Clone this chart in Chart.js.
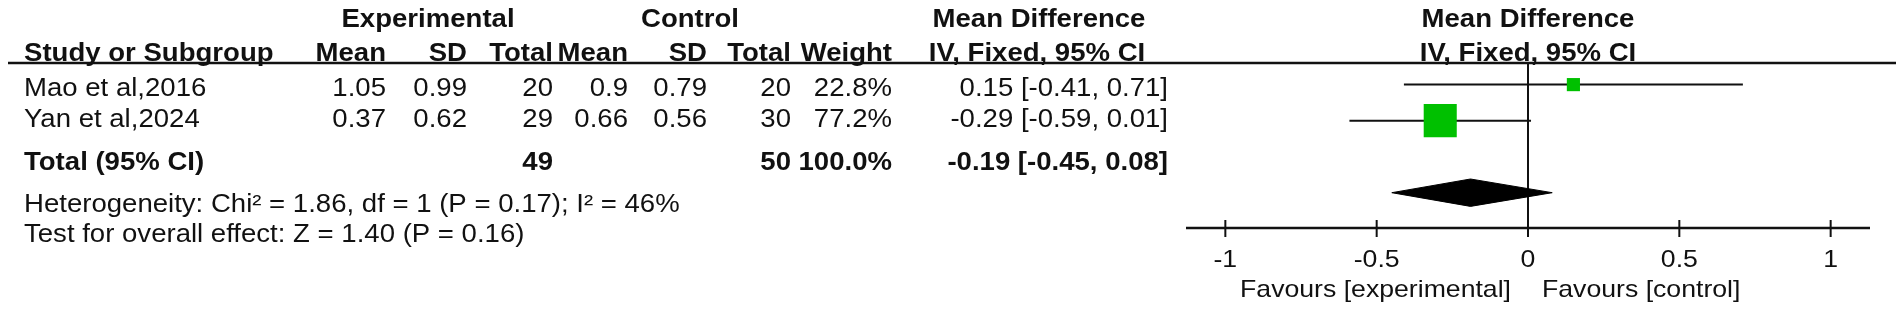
<!DOCTYPE html>
<html>
<head>
<meta charset="utf-8">
<script src="https://cdn.jsdelivr.net/npm/chart.js@4/dist/chart.umd.min.js"></script>
<style>
  html, body { margin: 0; padding: 0; background: #fff; }
  #wrap { width: 1902px; height: 311px; }
</style>
</head>
<body>
<div id="wrap"><canvas id="forest" width="1902" height="311"></canvas></div>
<script>
// ===== DATA =====
const studies = ['Mao et al,2016', 'Yan et al,2024'];
const expMean = ['1.05', '0.37'];
const expSD = ['0.99', '0.62'];
const expTotal = [20, 29];
const ctlMean = ['0.9', '0.66'];
const ctlSD = ['0.79', '0.56'];
const ctlTotal = [20, 30];
const weights = [22.8, 77.2];
const meanDiff = [0.15, -0.29];
const ciLow = [-0.41, -0.59];
const ciHigh = [0.71, 0.01];

const totalLabel = 'Total (95% CI)';
const totalExp = 49;
const totalCtl = 50;
const totalWeight = 100.0;
const totalMD = -0.19;
const totalLow = -0.45;
const totalHigh = 0.08;

const heteroText = 'Heterogeneity: Chi² = 1.86, df = 1 (P = 0.17); I² = 46%';
const overallText = 'Test for overall effect: Z = 1.40 (P = 0.16)';

const xTicks = [-1, -0.5, 0, 0.5, 1];
const xTickLabels = ['-1', '-0.5', '0', '0.5', '1'];
const favourLeft = 'Favours [experimental]';
const favourRight = 'Favours [control]';

// ===== LAYOUT / STYLE =====
const FONT = '"Liberation Sans", Arial, Helvetica, sans-serif';
const INK = '#111';
const GREEN = '#00C000';
const TXT_SIZE = 26, TXT_SX = 1.06;
const AX_SIZE = 24, AX_SX = 1.11;
const ROW_TOTAL = 3;
const Y_MIN = -0.6, Y_MAX = 3.98;
// text baselines (px)
const BASE = { h1: 27, h2: 61, rows: [96, 127], total: 170, het: 212, test: 242 };
// right edges of the numeric columns
const COL = { expMean: 386, expSD: 467, expTotal: 553, ctlMean: 628, ctlSD: 707, ctlTotal: 791, weight: 892, ci: 1168 };

function fmtCI(m, lo, hi) {
  return `${m.toFixed(2)} [${lo.toFixed(2)}, ${hi.toFixed(2)}]`;
}

function txt(ctx, s, x, y, align, bold, size, sx) {
  ctx.save();
  ctx.font = `${bold ? 'bold ' : ''}${size}px ${FONT}`;
  ctx.textBaseline = 'alphabetic';
  ctx.textAlign = 'left';
  ctx.fillStyle = INK;
  const w = ctx.measureText(s).width * sx;
  const x0 = align === 'right' ? x - w : align === 'center' ? x - w / 2 : x;
  ctx.translate(x0, y);
  ctx.scale(sx, 1);
  ctx.fillText(s, 0, 0);
  ctx.restore();
}

function hline(ctx, x1, x2, y, w) {
  ctx.save();
  ctx.strokeStyle = INK; ctx.lineWidth = w;
  ctx.beginPath(); ctx.moveTo(x1, y); ctx.lineTo(x2, y); ctx.stroke();
  ctx.restore();
}

// ===== TABLE + AXIS PLUGIN =====
const forestTable = {
  id: 'forestTable',
  afterDraw(chart) {
    const ctx = chart.ctx;
    const xs = chart.scales.x;
    const T = (s, x, y, align, bold) => txt(ctx, s, x, y, align, bold, TXT_SIZE, TXT_SX);

    // header
    const h1 = BASE.h1, h2 = BASE.h2, zx = xs.getPixelForValue(0);
    T('Experimental', 428, h1, 'center', true);
    T('Control', 690, h1, 'center', true);
    T('Mean Difference', 1039, h1, 'center', true);
    T('Mean Difference', zx, h1, 'center', true);
    T('Study or Subgroup', 24, h2, 'left', true);
    T('Mean', COL.expMean, h2, 'right', true);
    T('SD', COL.expSD, h2, 'right', true);
    T('Total', COL.expTotal, h2, 'right', true);
    T('Mean', COL.ctlMean, h2, 'right', true);
    T('SD', COL.ctlSD, h2, 'right', true);
    T('Total', COL.ctlTotal, h2, 'right', true);
    T('Weight', COL.weight, h2, 'right', true);
    T('IV, Fixed, 95% CI', 1037, h2, 'center', true);
    T('IV, Fixed, 95% CI', zx, h2, 'center', true);
    hline(ctx, 8, 1896, chart.chartArea.top, 2.5);

    // study rows
    studies.forEach((name, i) => {
      const y = BASE.rows[i];
      T(name, 24, y, 'left', false);
      T(expMean[i], COL.expMean, y, 'right', false);
      T(expSD[i], COL.expSD, y, 'right', false);
      T(String(expTotal[i]), COL.expTotal, y, 'right', false);
      T(ctlMean[i], COL.ctlMean, y, 'right', false);
      T(ctlSD[i], COL.ctlSD, y, 'right', false);
      T(String(ctlTotal[i]), COL.ctlTotal, y, 'right', false);
      T(weights[i].toFixed(1) + '%', COL.weight, y, 'right', false);
      T(fmtCI(meanDiff[i], ciLow[i], ciHigh[i]), COL.ci, y, 'right', false);
    });

    // total
    T(totalLabel, 24, BASE.total, 'left', true);
    T(String(totalExp), COL.expTotal, BASE.total, 'right', true);
    T(String(totalCtl), COL.ctlTotal, BASE.total, 'right', true);
    T(totalWeight.toFixed(1) + '%', COL.weight, BASE.total, 'right', true);
    T(fmtCI(totalMD, totalLow, totalHigh), COL.ci, BASE.total, 'right', true);
    T(heteroText, 24, BASE.het, 'left', false);
    T(overallText, 24, BASE.test, 'left', false);

    // x axis
    const ay = chart.chartArea.bottom;
    hline(ctx, xs.getPixelForValue(xs.min), xs.getPixelForValue(xs.max), ay, 2.5);
    ctx.save();
    ctx.strokeStyle = INK; ctx.lineWidth = 2;
    xTicks.forEach((v, k) => {
      const px = xs.getPixelForValue(v);
      ctx.beginPath(); ctx.moveTo(px, ay - 8); ctx.lineTo(px, ay + 9); ctx.stroke();
      txt(ctx, xTickLabels[k], px, ay + 39, 'center', false, AX_SIZE, AX_SX);
    });
    ctx.restore();
    txt(ctx, favourLeft, zx - 17, ay + 69, 'right', false, AX_SIZE, AX_SX);
    txt(ctx, favourRight, zx + 14, ay + 69, 'left', false, AX_SIZE, AX_SX);
  }
};

// ===== DATASETS =====
const ciSets = studies.map((s, i) => ({
  type: 'line',
  data: [{ x: ciLow[i], y: i }, { x: ciHigh[i], y: i }],
  borderColor: INK, borderWidth: 2, pointRadius: 0, order: 2
}));

const squareSet = {
  type: 'scatter',
  data: meanDiff.map((m, i) => ({ x: m, y: i })),
  pointStyle: 'rect',
  pointRadius: ctx => (2.4 + 0.183 * weights[ctx.dataIndex]) * Math.SQRT2,
  backgroundColor: GREEN, borderWidth: 0, order: 1
};

const DIAMOND_H = 0.38;
const diamondSet = {
  type: 'line',
  data: [
    { x: totalLow, y: ROW_TOTAL }, { x: totalMD, y: ROW_TOTAL - DIAMOND_H },
    { x: totalHigh, y: ROW_TOTAL }, { x: totalMD, y: ROW_TOTAL + DIAMOND_H },
    { x: totalLow, y: ROW_TOTAL }
  ],
  borderColor: '#000', borderWidth: 1, backgroundColor: '#000',
  fill: 'shape', pointRadius: 0, tension: 0, order: 0
};

const zeroSet = {
  type: 'line',
  data: [{ x: 0, y: Y_MIN }, { x: 0, y: Y_MAX }],
  borderColor: INK, borderWidth: 2, pointRadius: 0, order: 3
};

new Chart(document.getElementById('forest'), {
  type: 'scatter',
  data: { datasets: [diamondSet, squareSet, ...ciSets, zeroSet] },
  options: {
    responsive: false,
    animation: false,
    devicePixelRatio: 1,
    layout: { padding: { left: 1186, right: 32, top: 63, bottom: 83 } },
    plugins: { legend: { display: false }, tooltip: { enabled: false } },
    elements: { line: { clip: false } },
    scales: {
      x: { type: 'linear', min: -1.13, max: 1.13, display: false },
      y: { type: 'linear', min: Y_MIN, max: Y_MAX, reverse: true, display: false }
    }
  },
  plugins: [forestTable]
});
</script>
</body>
</html>
